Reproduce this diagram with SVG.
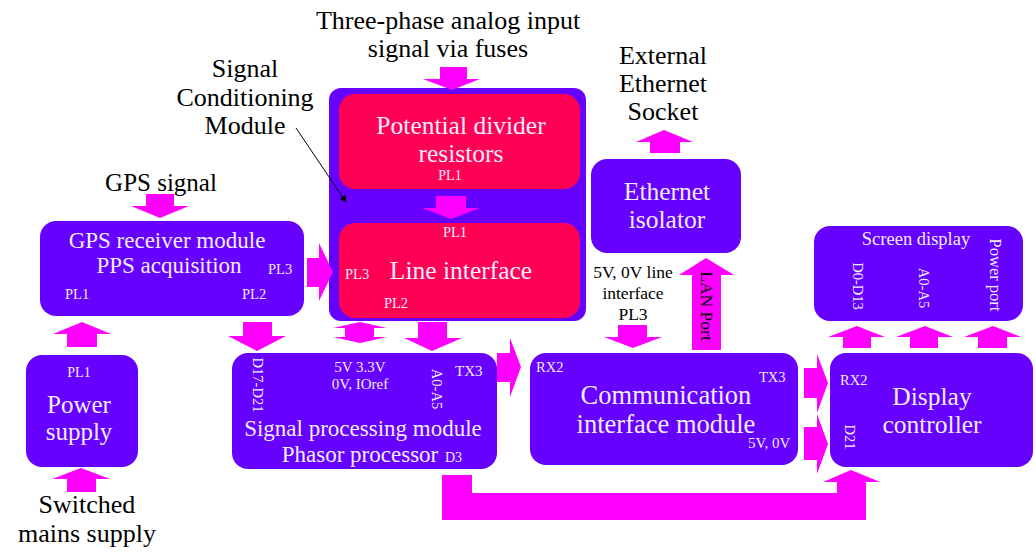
<svg xmlns="http://www.w3.org/2000/svg" width="1036" height="552" viewBox="0 0 1036 552">
  <style>
    .box { fill: #6600FF; }
    .inner { fill: #FF0055; }
    .arrow { fill: #FF00FF; }
    text { font-family: "Liberation Serif", "Times New Roman", serif; }
    .lbl { fill: #000000; font-size: 26px; text-anchor: middle; }
    .in { fill: #F3ECFF; }
    .mid { text-anchor: middle; }
    .big { font-size: 25.5px; }
    .med { font-size: 23px; }
    .pin { font-size: 14.5px; }
    .vert { font-size: 14.5px; text-anchor: middle; dominant-baseline: central; }
  </style>
  <defs>
    <marker id="blackHead" viewBox="0 0 10 10" refX="9" refY="5" markerWidth="7" markerHeight="7" orient="auto" markerUnits="userSpaceOnUse">
      <path d="M0,0 L10,5 L0,10 z" fill="#000000"/>
    </marker>
  </defs>

  <!-- free-standing labels -->
  <g id="labels">
    <text class="lbl" x="448" y="29">Three-phase analog input</text>
    <text class="lbl" x="448" y="57">signal via fuses</text>
    <text class="lbl" x="663" y="64">External</text>
    <text class="lbl" x="663" y="92">Ethernet</text>
    <text class="lbl" x="663" y="120">Socket</text>
    <text class="lbl" x="245" y="77">Signal</text>
    <text class="lbl" x="245" y="106">Conditioning</text>
    <text class="lbl" x="245" y="134">Module</text>
    <text class="lbl" x="161" y="191" style="font-size:25px">GPS signal</text>
    <text class="lbl" x="87" y="513">Switched</text>
    <text class="lbl" x="87" y="542">mains supply</text>
    <text class="lbl" x="633" y="278" style="font-size:17.5px">5V, 0V line</text>
    <text class="lbl" x="633" y="299" style="font-size:17.5px">interface</text>
    <text class="lbl" x="633" y="320" style="font-size:17.5px">PL3</text>
  </g>

  <!-- GPS receiver -->
  <g id="gps">
    <rect class="box" x="40" y="221" width="264" height="95" rx="16"/>
    <text class="in med mid" x="167" y="248">GPS receiver module</text>
    <text class="in med mid" x="169" y="273">PPS acquisition</text>
    <text class="in pin" x="268" y="274">PL3</text>
    <text class="in pin" x="65" y="299">PL1</text>
    <text class="in pin" x="242" y="299">PL2</text>
  </g>

  <!-- Power supply -->
  <g id="power">
    <rect class="box" x="26" y="355" width="112" height="112" rx="16"/>
    <text class="in pin mid" x="79" y="377" style="font-size:14px">PL1</text>
    <text class="in mid" x="79" y="413" style="font-size:25px">Power</text>
    <text class="in mid" x="79" y="440" style="font-size:25px">supply</text>
  </g>

  <!-- Signal conditioning module -->
  <g id="conditioning">
    <rect class="box" x="329" y="88" width="257" height="233" rx="12"/>
    <rect class="inner" x="339" y="94" width="241" height="95" rx="16"/>
    <text class="in big mid" x="461" y="134">Potential divider</text>
    <text class="in big mid" x="461" y="162">resistors</text>
    <text class="in pin mid" x="450" y="180" style="font-size:14px">PL1</text>
    <rect class="inner" x="339" y="223" width="241" height="95" rx="16"/>
    <text class="in pin mid" x="455" y="237">PL1</text>
    <text class="in pin" x="345" y="279">PL3</text>
    <text class="in big mid" x="461" y="279">Line interface</text>
    <text class="in pin mid" x="396" y="308">PL2</text>
  </g>

  <!-- Signal processing module -->
  <g id="processing">
    <rect class="box" x="232" y="353" width="265" height="116" rx="16"/>
    <text class="in vert" transform="translate(258,385) rotate(90)">D17-D21</text>
    <text class="in pin mid" x="360" y="372" style="font-size:15px">5V 3.3V</text>
    <text class="in pin mid" x="360" y="389" style="font-size:15px">0V, IOref</text>
    <text class="in vert" transform="translate(437,389) rotate(90)">A0-A5</text>
    <text class="in pin" x="455" y="376" style="font-size:15px">TX3</text>
    <text class="in med mid" x="363" y="436">Signal processing module</text>
    <text class="in med mid" x="360" y="462">Phasor processor</text>
    <text class="in pin" x="445" y="462" style="font-size:14px">D3</text>
  </g>

  <!-- Ethernet isolator -->
  <g id="ethernet">
    <rect class="box" x="591" y="159" width="150" height="94" rx="16"/>
    <text class="in big mid" x="667" y="200">Ethernet</text>
    <text class="in big mid" x="667" y="228">isolator</text>
  </g>

  <!-- Communication interface module -->
  <g id="communication">
    <rect class="box" x="530" y="353" width="268" height="112" rx="16"/>
    <text class="in pin" x="536" y="372">RX2</text>
    <text class="in pin" x="759" y="382">TX3</text>
    <text class="in mid" x="666" y="404" style="font-size:26.5px">Communication</text>
    <text class="in mid" x="666" y="433" style="font-size:26.5px">interface module</text>
    <text class="in pin" x="748" y="448" style="font-size:15px">5V, 0V</text>
  </g>

  <!-- Screen display -->
  <g id="screen">
    <rect class="box" x="814" y="226" width="209" height="95" rx="16"/>
    <text class="in mid" x="916" y="245" style="font-size:18.5px">Screen display</text>
    <text class="in vert" transform="translate(858,286) rotate(90)">D0-D13</text>
    <text class="in vert" transform="translate(924,288) rotate(90)">A0-A5</text>
    <text class="in vert" transform="translate(995,275) rotate(90)" style="font-size:16.5px">Power port</text>
  </g>

  <!-- Display controller -->
  <g id="display">
    <rect class="box" x="830" y="353" width="203" height="114" rx="16"/>
    <text class="in pin" x="840" y="385">RX2</text>
    <text class="in vert" transform="translate(850,437) rotate(90)">D21</text>
    <text class="in big mid" x="932" y="405">Display</text>
    <text class="in big mid" x="932" y="433">controller</text>
  </g>

  <!-- connectors -->
  <g id="connectors">
    <!-- GPS signal into receiver -->
    <polygon class="arrow" points="146,194 174,194 174,206 189,206 160,218 131,206 146,206"/>
    <!-- power supply to GPS receiver -->
    <polygon class="arrow" points="82,322 111,334 97,334 97,347 67,347 67,334 53,334"/>
    <!-- GPS receiver to signal processing -->
    <polygon class="arrow" points="243,322 272,322 272,336 286,336 257,351 228,336 243,336"/>
    <!-- GPS receiver to line interface -->
    <polygon class="arrow" points="307,258 319,258 319,243 333,272 319,301 319,287 307,287"/>
    <!-- three-phase input -->
    <polygon class="arrow" points="440,67 467,67 467,79 480,79 452,90 423,79 440,79"/>
    <!-- divider to line interface -->
    <polygon class="arrow" points="436,196 466,196 466,208 480,208 451,219 422,208 436,208"/>
    <!-- isolator to external socket -->
    <polygon class="arrow" points="664,130 693,142 680,142 680,153 650,153 650,142 636,142"/>
    <!-- supply rails, both ways -->
    <polygon class="arrow" points="360,322 387,328 374,328 374,337 387,337 360,343 333,337 345,337 345,328 333,328"/>
    <!-- A0-A5 line interface to processing -->
    <polygon class="arrow" points="418,322 447,322 447,338 462,338 432,351 404,338 418,338"/>
    <!-- processing TX3 to communication RX2 -->
    <polygon class="arrow" points="497,353 510,353 510,338 521,367 510,397 510,382 497,382"/>
    <!-- line interface supply to communication -->
    <polygon class="arrow" points="618,325 647,325 647,337 662,337 633,348 604,337 618,337"/>
    <!-- LAN port -->
    <polygon class="arrow" points="706,258 734,275 721,275 721,350 692,350 692,275 679,275"/>
    <text class="lbl" transform="translate(707,306) rotate(90)" style="font-size:17.5px; dominant-baseline:central">LAN Port</text>
    <!-- communication to display controller -->
    <polygon class="arrow" points="804,368 817,368 817,354 828,383 817,413 817,398 804,398"/>
    <polygon class="arrow" points="804,427 817,427 817,414 828,444 817,474 817,460 804,460"/>
    <!-- display controller to screen -->
    <polygon class="arrow" points="857,326 885,337 871,337 871,348 843,348 843,337 828,337"/>
    <polygon class="arrow" points="925,326 953,337 938,337 938,348 910,348 910,337 896,337"/>
    <polygon class="arrow" points="993,326 1021,337 1007,337 1007,348 978,348 978,337 964,337"/>
    <!-- D3 to D21 -->
    <polygon class="arrow" points="442,475 472,475 472,493 837,493 837,482 823,482 851,470 880,482 866,482 866,520 442,520"/>
    <!-- mains into power supply -->
    <polygon class="arrow" points="81,468 110,479 96,479 96,492 67,492 67,479 52,479"/>
    <!-- module callout -->
    <line x1="296" y1="128" x2="346" y2="202" stroke="#000000" stroke-width="1" marker-end="url(#blackHead)"/>
  </g>
</svg>
